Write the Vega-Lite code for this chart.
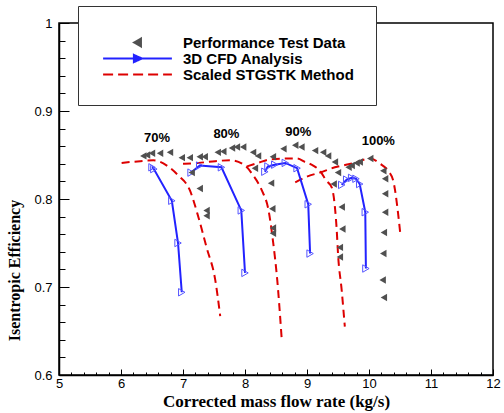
{
  "$schema": "https://vega.github.io/schema/vega-lite/v6.json",
  "width": 434,
  "height": 352,
  "autosize": {"type": "none"},
  "padding": {"left": 59, "top": 23, "right": 11, "bottom": 38},
  "background": "white",
  "config": {
    "view": {"stroke": "black", "strokeWidth": 1.5},
    "axis": {
      "domainColor": "black", "domainWidth": 1.5, "tickColor": "black", "tickWidth": 1,
      "labelFont": "Liberation Sans", "labelFontSize": 13, "labelColor": "black",
      "titleFont": "Liberation Serif", "titleFontWeight": "bold", "titleColor": "black",
      "grid": false, "labelOverlap": false, "labelFlush": false
    }
  },
  "datasets": {
    "curves": [
      {"s": "Performance Test Data", "speed": "70%", "flow": 6.36, "eff": 0.849},
      {"s": "Performance Test Data", "speed": "70%", "flow": 6.42, "eff": 0.850},
      {"s": "Performance Test Data", "speed": "70%", "flow": 6.50, "eff": 0.852},
      {"s": "Performance Test Data", "speed": "70%", "flow": 6.63, "eff": 0.852},
      {"s": "Performance Test Data", "speed": "70%", "flow": 6.79, "eff": 0.853},
      {"s": "Performance Test Data", "speed": "70%", "flow": 6.98, "eff": 0.847},
      {"s": "Performance Test Data", "speed": "70%", "flow": 7.14, "eff": 0.830},
      {"s": "Performance Test Data", "speed": "70%", "flow": 7.27, "eff": 0.812},
      {"s": "Performance Test Data", "speed": "70%", "flow": 7.38, "eff": 0.787},
      {"s": "Performance Test Data", "speed": "70%", "flow": 7.38, "eff": 0.781},
      {"s": "Performance Test Data", "speed": "80%", "flow": 7.11, "eff": 0.847},
      {"s": "Performance Test Data", "speed": "80%", "flow": 7.27, "eff": 0.848},
      {"s": "Performance Test Data", "speed": "80%", "flow": 7.35, "eff": 0.848},
      {"s": "Performance Test Data", "speed": "80%", "flow": 7.56, "eff": 0.853},
      {"s": "Performance Test Data", "speed": "80%", "flow": 7.65, "eff": 0.854},
      {"s": "Performance Test Data", "speed": "80%", "flow": 7.79, "eff": 0.858},
      {"s": "Performance Test Data", "speed": "80%", "flow": 7.87, "eff": 0.859},
      {"s": "Performance Test Data", "speed": "80%", "flow": 7.97, "eff": 0.859},
      {"s": "Performance Test Data", "speed": "80%", "flow": 8.13, "eff": 0.853},
      {"s": "Performance Test Data", "speed": "80%", "flow": 8.21, "eff": 0.849},
      {"s": "Performance Test Data", "speed": "80%", "flow": 8.16, "eff": 0.835},
      {"s": "Performance Test Data", "speed": "80%", "flow": 8.42, "eff": 0.818},
      {"s": "Performance Test Data", "speed": "80%", "flow": 8.44, "eff": 0.789},
      {"s": "Performance Test Data", "speed": "80%", "flow": 8.45, "eff": 0.767},
      {"s": "Performance Test Data", "speed": "80%", "flow": 8.45, "eff": 0.761},
      {"s": "Performance Test Data", "speed": "90%", "flow": 8.45, "eff": 0.848},
      {"s": "Performance Test Data", "speed": "90%", "flow": 8.62, "eff": 0.857},
      {"s": "Performance Test Data", "speed": "90%", "flow": 8.81, "eff": 0.861},
      {"s": "Performance Test Data", "speed": "90%", "flow": 8.91, "eff": 0.859},
      {"s": "Performance Test Data", "speed": "90%", "flow": 9.13, "eff": 0.855},
      {"s": "Performance Test Data", "speed": "90%", "flow": 9.26, "eff": 0.853},
      {"s": "Performance Test Data", "speed": "90%", "flow": 9.34, "eff": 0.849},
      {"s": "Performance Test Data", "speed": "90%", "flow": 9.45, "eff": 0.842},
      {"s": "Performance Test Data", "speed": "90%", "flow": 9.50, "eff": 0.830},
      {"s": "Performance Test Data", "speed": "90%", "flow": 9.43, "eff": 0.817},
      {"s": "Performance Test Data", "speed": "90%", "flow": 9.56, "eff": 0.791},
      {"s": "Performance Test Data", "speed": "90%", "flow": 9.57, "eff": 0.766},
      {"s": "Performance Test Data", "speed": "90%", "flow": 9.53, "eff": 0.745},
      {"s": "Performance Test Data", "speed": "90%", "flow": 9.53, "eff": 0.734},
      {"s": "Performance Test Data", "speed": "100%", "flow": 9.67, "eff": 0.836},
      {"s": "Performance Test Data", "speed": "100%", "flow": 9.72, "eff": 0.838},
      {"s": "Performance Test Data", "speed": "100%", "flow": 9.80, "eff": 0.841},
      {"s": "Performance Test Data", "speed": "100%", "flow": 9.85, "eff": 0.842},
      {"s": "Performance Test Data", "speed": "100%", "flow": 10.02, "eff": 0.846},
      {"s": "Performance Test Data", "speed": "100%", "flow": 10.23, "eff": 0.832},
      {"s": "Performance Test Data", "speed": "100%", "flow": 10.26, "eff": 0.823},
      {"s": "Performance Test Data", "speed": "100%", "flow": 10.26, "eff": 0.806},
      {"s": "Performance Test Data", "speed": "100%", "flow": 10.26, "eff": 0.785},
      {"s": "Performance Test Data", "speed": "100%", "flow": 10.24, "eff": 0.762},
      {"s": "Performance Test Data", "speed": "100%", "flow": 10.23, "eff": 0.738},
      {"s": "Performance Test Data", "speed": "100%", "flow": 10.22, "eff": 0.708},
      {"s": "Performance Test Data", "speed": "100%", "flow": 10.24, "eff": 0.688},
      {"s": "3D CFD Analysis", "speed": "70%", "flow": 6.50, "eff": 0.836},
      {"s": "3D CFD Analysis", "speed": "70%", "flow": 6.53, "eff": 0.834},
      {"s": "3D CFD Analysis", "speed": "70%", "flow": 6.82, "eff": 0.798},
      {"s": "3D CFD Analysis", "speed": "70%", "flow": 6.92, "eff": 0.750},
      {"s": "3D CFD Analysis", "speed": "70%", "flow": 6.98, "eff": 0.694},
      {"s": "3D CFD Analysis", "speed": "80%", "flow": 7.13, "eff": 0.830},
      {"s": "3D CFD Analysis", "speed": "80%", "flow": 7.27, "eff": 0.838},
      {"s": "3D CFD Analysis", "speed": "80%", "flow": 7.62, "eff": 0.836},
      {"s": "3D CFD Analysis", "speed": "80%", "flow": 7.94, "eff": 0.787},
      {"s": "3D CFD Analysis", "speed": "80%", "flow": 8.00, "eff": 0.716},
      {"s": "3D CFD Analysis", "speed": "90%", "flow": 8.32, "eff": 0.831},
      {"s": "3D CFD Analysis", "speed": "90%", "flow": 8.37, "eff": 0.837},
      {"s": "3D CFD Analysis", "speed": "90%", "flow": 8.48, "eff": 0.839},
      {"s": "3D CFD Analysis", "speed": "90%", "flow": 8.65, "eff": 0.841},
      {"s": "3D CFD Analysis", "speed": "90%", "flow": 8.84, "eff": 0.835},
      {"s": "3D CFD Analysis", "speed": "90%", "flow": 9.02, "eff": 0.794},
      {"s": "3D CFD Analysis", "speed": "90%", "flow": 9.05, "eff": 0.738},
      {"s": "3D CFD Analysis", "speed": "100%", "flow": 9.56, "eff": 0.816},
      {"s": "3D CFD Analysis", "speed": "100%", "flow": 9.64, "eff": 0.822},
      {"s": "3D CFD Analysis", "speed": "100%", "flow": 9.72, "eff": 0.824},
      {"s": "3D CFD Analysis", "speed": "100%", "flow": 9.79, "eff": 0.823},
      {"s": "3D CFD Analysis", "speed": "100%", "flow": 9.85, "eff": 0.817},
      {"s": "3D CFD Analysis", "speed": "100%", "flow": 9.94, "eff": 0.785},
      {"s": "3D CFD Analysis", "speed": "100%", "flow": 9.95, "eff": 0.721},
      {"s": "Scaled STGSTK Method", "speed": "70%", "flow": 6.01, "eff": 0.841},
      {"s": "Scaled STGSTK Method", "speed": "70%", "flow": 6.31, "eff": 0.843},
      {"s": "Scaled STGSTK Method", "speed": "70%", "flow": 6.52, "eff": 0.844},
      {"s": "Scaled STGSTK Method", "speed": "70%", "flow": 6.74, "eff": 0.838},
      {"s": "Scaled STGSTK Method", "speed": "70%", "flow": 6.92, "eff": 0.827},
      {"s": "Scaled STGSTK Method", "speed": "70%", "flow": 7.11, "eff": 0.810},
      {"s": "Scaled STGSTK Method", "speed": "70%", "flow": 7.25, "eff": 0.779},
      {"s": "Scaled STGSTK Method", "speed": "70%", "flow": 7.38, "eff": 0.745},
      {"s": "Scaled STGSTK Method", "speed": "70%", "flow": 7.52, "eff": 0.708},
      {"s": "Scaled STGSTK Method", "speed": "70%", "flow": 7.60, "eff": 0.667},
      {"s": "Scaled STGSTK Method", "speed": "80%", "flow": 7.00, "eff": 0.840},
      {"s": "Scaled STGSTK Method", "speed": "80%", "flow": 7.25, "eff": 0.841},
      {"s": "Scaled STGSTK Method", "speed": "80%", "flow": 7.52, "eff": 0.843},
      {"s": "Scaled STGSTK Method", "speed": "80%", "flow": 7.76, "eff": 0.844},
      {"s": "Scaled STGSTK Method", "speed": "80%", "flow": 8.00, "eff": 0.838},
      {"s": "Scaled STGSTK Method", "speed": "80%", "flow": 8.13, "eff": 0.827},
      {"s": "Scaled STGSTK Method", "speed": "80%", "flow": 8.27, "eff": 0.810},
      {"s": "Scaled STGSTK Method", "speed": "80%", "flow": 8.38, "eff": 0.787},
      {"s": "Scaled STGSTK Method", "speed": "80%", "flow": 8.45, "eff": 0.753},
      {"s": "Scaled STGSTK Method", "speed": "80%", "flow": 8.52, "eff": 0.708},
      {"s": "Scaled STGSTK Method", "speed": "80%", "flow": 8.59, "eff": 0.643},
      {"s": "Scaled STGSTK Method", "speed": "90%", "flow": 8.03, "eff": 0.837},
      {"s": "Scaled STGSTK Method", "speed": "90%", "flow": 8.21, "eff": 0.841},
      {"s": "Scaled STGSTK Method", "speed": "90%", "flow": 8.40, "eff": 0.845},
      {"s": "Scaled STGSTK Method", "speed": "90%", "flow": 8.65, "eff": 0.846},
      {"s": "Scaled STGSTK Method", "speed": "90%", "flow": 8.84, "eff": 0.846},
      {"s": "Scaled STGSTK Method", "speed": "90%", "flow": 8.97, "eff": 0.842},
      {"s": "Scaled STGSTK Method", "speed": "90%", "flow": 9.10, "eff": 0.838},
      {"s": "Scaled STGSTK Method", "speed": "90%", "flow": 9.21, "eff": 0.832},
      {"s": "Scaled STGSTK Method", "speed": "90%", "flow": 9.31, "eff": 0.821},
      {"s": "Scaled STGSTK Method", "speed": "90%", "flow": 9.40, "eff": 0.813},
      {"s": "Scaled STGSTK Method", "speed": "90%", "flow": 9.45, "eff": 0.791},
      {"s": "Scaled STGSTK Method", "speed": "90%", "flow": 9.48, "eff": 0.764},
      {"s": "Scaled STGSTK Method", "speed": "90%", "flow": 9.50, "eff": 0.738},
      {"s": "Scaled STGSTK Method", "speed": "90%", "flow": 9.56, "eff": 0.696},
      {"s": "Scaled STGSTK Method", "speed": "90%", "flow": 9.61, "eff": 0.655},
      {"s": "Scaled STGSTK Method", "speed": "100%", "flow": 8.81, "eff": 0.819},
      {"s": "Scaled STGSTK Method", "speed": "100%", "flow": 9.02, "eff": 0.826},
      {"s": "Scaled STGSTK Method", "speed": "100%", "flow": 9.21, "eff": 0.830},
      {"s": "Scaled STGSTK Method", "speed": "100%", "flow": 9.45, "eff": 0.836},
      {"s": "Scaled STGSTK Method", "speed": "100%", "flow": 9.77, "eff": 0.841},
      {"s": "Scaled STGSTK Method", "speed": "100%", "flow": 10.02, "eff": 0.846},
      {"s": "Scaled STGSTK Method", "speed": "100%", "flow": 10.18, "eff": 0.840},
      {"s": "Scaled STGSTK Method", "speed": "100%", "flow": 10.31, "eff": 0.832},
      {"s": "Scaled STGSTK Method", "speed": "100%", "flow": 10.39, "eff": 0.821},
      {"s": "Scaled STGSTK Method", "speed": "100%", "flow": 10.42, "eff": 0.810},
      {"s": "Scaled STGSTK Method", "speed": "100%", "flow": 10.47, "eff": 0.783},
      {"s": "Scaled STGSTK Method", "speed": "100%", "flow": 10.51, "eff": 0.757}
    ],
    "labels": [
      {"label": "70%", "flow": 6.58, "eff": 0.869},
      {"label": "80%", "flow": 7.70, "eff": 0.874},
      {"label": "90%", "flow": 8.86, "eff": 0.876},
      {"label": "100%", "flow": 10.15, "eff": 0.866}
    ]
  },
  "data": {"name": "curves"},
  "encoding": {
    "x": {
      "field": "flow", "type": "quantitative",
      "scale": {"domain": [5, 12], "nice": false, "zero": false},
      "title": "Corrected mass flow rate (kg/s)",
      "axis": {
        "values": [5,5.2,5.4,5.6,5.8,6,6.2,6.4,6.6,6.8,7,7.2,7.4,7.6,7.8,8,8.2,8.4,8.6,8.8,9,9.2,9.4,9.6,9.8,10,10.2,10.4,10.6,10.8,11,11.2,11.4,11.6,11.8,12],
        "labelExpr": "datum.value % 1 === 0 ? '' + datum.value : ''",
        "tickSize": {"condition": {"test": "datum.value % 1 === 0", "value": -6}, "value": -3},
        "labelPadding": 8,
        "titleFontSize": 17,
        "titleBaseline": "alphabetic",
        "titleY": 31
      }
    },
    "y": {
      "field": "eff", "type": "quantitative",
      "scale": {"domain": [0.6, 1], "nice": false, "zero": false},
      "title": "Isentropic Efficiency",
      "axis": {
        "values": [0.6,0.62,0.64,0.66,0.68,0.7,0.72,0.74,0.76,0.78,0.8,0.82,0.84,0.86,0.88,0.9,0.92,0.94,0.96,0.98,1],
        "labelExpr": "abs(datum.value * 10 - round(datum.value * 10)) < 0.001 ? '' + datum.value : ''",
        "tickSize": {"condition": {"test": "abs(datum.value * 10 - round(datum.value * 10)) < 0.001", "value": -10}, "value": -6},
        "labelPadding": 17,
        "titleFontSize": 16,
        "titleX": -45,
        "titleY": 247,
        "titleAngle": -90,
        "titleAlign": "center",
        "titleBaseline": "middle"
      }
    },
    "color": {
      "field": "s", "type": "nominal",
      "scale": {
        "domain": ["Performance Test Data", "3D CFD Analysis", "Scaled STGSTK Method"],
        "range": ["#505050", "#2222ff", "#dd0000"]
      },
      "legend": {
        "title": " ",
        "titleFontSize": 4,
        "titlePadding": 3,
        "orient": "none",
        "legendX": 19,
        "legendY": -17,
        "padding": 22,
        "strokeColor": "#333333",
        "fillColor": "white",
        "labelFont": "Liberation Sans",
        "labelFontSize": 15,
        "labelFontWeight": "bold",
        "labelColor": "black",
        "labelLimit": 400,
        "symbolSize": 64,
        "symbolStrokeWidth": 2,
        "symbolOffset": 30,
        "labelOffset": 38,
        "rowPadding": -2,
        "encode": {
          "symbols": {
            "update": {
              "shape": {"signal": "datum.value === 'Performance Test Data' ? 'triangle-left' : (datum.value === '3D CFD Analysis' ? 'M-8.6,0L8.6,0M-0.9,-0.9L1.1,0L-0.9,0.9Z' : 'M-8.6,0L8.6,0')"},
              "fill": {"signal": "datum.value === 'Performance Test Data' ? '#505050' : 'transparent'"},
              "stroke": {"signal": "datum.value === 'Performance Test Data' ? 'transparent' : (datum.value === '3D CFD Analysis' ? '#2222ff' : '#dd0000')"},
              "strokeDash": {"signal": "datum.value === 'Scaled STGSTK Method' ? [10, 5] : [1, 0]"},
              "strokeWidth": {"value": 2},
              "opacity": {"value": 1}
            }
          }
        }
      }
    }
  },
  "layer": [
    {
      "transform": [{"filter": "datum.s === 'Scaled STGSTK Method'"}],
      "mark": {"type": "line", "strokeWidth": 2, "strokeDash": [8, 5], "interpolate": "monotone"},
      "encoding": {"detail": {"field": "speed"}}
    },
    {
      "transform": [{"filter": "datum.s === '3D CFD Analysis'"}],
      "mark": {"type": "line", "strokeWidth": 2},
      "encoding": {"detail": {"field": "speed"}}
    },
    {
      "transform": [{"filter": "datum.s === '3D CFD Analysis'"}],
      "mark": {"type": "point", "shape": "triangle-right", "filled": false, "size": 55, "strokeWidth": 1, "opacity": 1},
      "encoding": {"color": {"value": "#5555ff"}}
    },
    {
      "transform": [{"filter": "datum.s === 'Performance Test Data'"}],
      "mark": {"type": "point", "shape": "triangle-left", "filled": true, "size": 55, "opacity": 1}
    },
    {
      "data": {"name": "labels"},
      "mark": {"type": "text", "font": "Liberation Sans", "fontWeight": "bold", "fontSize": 13},
      "encoding": {"text": {"field": "label"}, "color": {"value": "black"}}
    }
  ]
}
